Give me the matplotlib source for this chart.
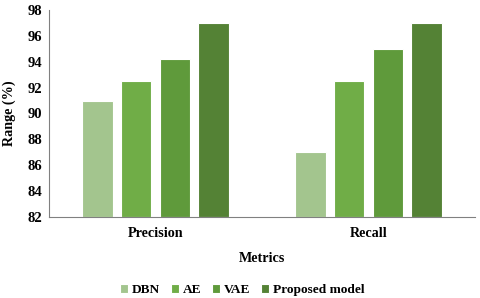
import numpy as np
import matplotlib.pyplot as plt

metrics = ["Precision", "Recall"]
models = ["DBN", "AE", "VAE", "Proposed model"]
dbn = [91.0, 87.0]
ae = [92.5, 92.5]
vae = [94.2, 95.0]
proposed = [97.0, 97.0]
series = [dbn, ae, vae, proposed]
colors = ["#a3c58e", "#70ad47", "#5f9a3b", "#548235"]

plt.rcParams["font.family"] = ["Liberation Serif", "DejaVu Serif"]
plt.rcParams["font.weight"] = "bold"

fig = plt.figure(figsize=(4.8, 2.98), dpi=100)
ax = fig.add_axes([49 / 480, 1 - 217 / 298, 426 / 480, 207 / 298])

x = np.arange(len(metrics))
width = 0.143
step = 0.182
for i, (vals, name) in enumerate(zip(series, models)):
    ax.bar(x + (i - 1.5) * step, np.array(vals) - 82, width, bottom=82,
           color=colors[i], edgecolor="white", linewidth=0.8, label=name)

ax.set_xlim(-0.5, 1.5)
ax.set_ylim(82, 98)
ax.set_yticks(np.arange(82, 99, 2))
ax.set_xticks(x)
ax.set_xticklabels(metrics, fontsize=10.2, fontweight="bold")
ax.tick_params(axis="y", labelsize=10.5, length=0, pad=5)
ax.tick_params(axis="x", length=0, pad=7)
for lab in ax.get_yticklabels():
    lab.set_fontweight("bold")

for s in ["top", "right"]:
    ax.spines[s].set_visible(False)
ax.spines["left"].set_color("#808080")
ax.spines["bottom"].set_color("#808080")

ax.set_ylabel("Range (%)", fontsize=10.2, fontweight="bold", labelpad=8)
ax.set_xlabel("Metrics", fontsize=10.2, fontweight="bold", labelpad=9)

fig.legend(loc="lower center", bbox_to_anchor=(0.505, -0.035), ncol=4, frameon=False,
           handlelength=0.6, handleheight=0.6, handletextpad=0.3,
           columnspacing=0.8, prop={"weight": "bold", "size": 9.6})

fig.savefig("out.png", dpi=100)
